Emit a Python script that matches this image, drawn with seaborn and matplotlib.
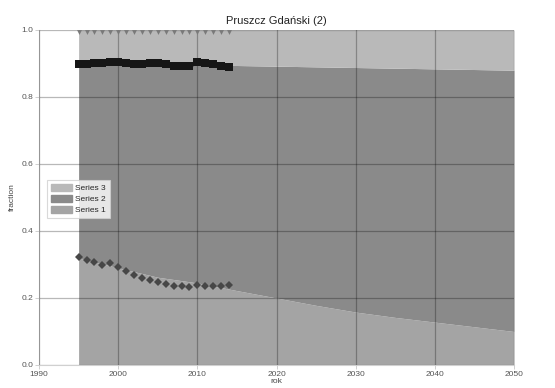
import numpy as np
import pandas as pd
import matplotlib
matplotlib.use('Agg')
import matplotlib.pyplot as plt
import matplotlib.patches as mpatches
import seaborn as sns

# stacked areas (shares), read every 5 years
area_years = [1995, 2000, 2005, 2010, 2015, 2020, 2025, 2030, 2035, 2040, 2045, 2050]
series1 = [0.32, 0.29, 0.262, 0.245, 0.222, 0.20, 0.178, 0.158, 0.142, 0.128, 0.114, 0.10]
series2 = [0.58, 0.61, 0.636, 0.651, 0.672, 0.692, 0.712, 0.730, 0.744, 0.756, 0.768, 0.780]
series3 = [0.10, 0.10, 0.102, 0.104, 0.106, 0.108, 0.110, 0.112, 0.114, 0.116, 0.118, 0.120]

# observed points 1995-2014
obs_years = list(range(1995, 2015))
obs_low = [0.321, 0.313, 0.308, 0.297, 0.303, 0.294, 0.282, 0.270, 0.260, 0.254,
           0.247, 0.241, 0.235, 0.235, 0.233, 0.238, 0.236, 0.236, 0.236, 0.238]
obs_mid = [0.898, 0.899, 0.900, 0.901, 0.905, 0.903, 0.900, 0.898, 0.899, 0.901,
           0.900, 0.897, 0.894, 0.893, 0.893, 0.904, 0.901, 0.897, 0.894, 0.890]
obs_top = [0.993] * 20

colors = {'Series 1': '#a4a4a4', 'Series 2': '#8a8a8a', 'Series 3': '#b9b9b9'}

sns.set_theme(style='white')
plt.rcParams['font.family'] = ['Liberation Sans', 'DejaVu Sans']

fig = plt.figure(figsize=(5.55, 3.88), dpi=100)
ax = fig.add_axes([0.0703, 0.0593, 0.856, 0.8634])

x = np.array(area_years)
b1 = np.array(series1)
b2 = b1 + np.array(series2)
b3 = b2 + np.array(series3)
ax.fill_between(x, 0, b1, color=colors['Series 1'], lw=0, zorder=1)
ax.fill_between(x, b1, b2, color=colors['Series 2'], lw=0, zorder=1)
ax.fill_between(x, b2, b3, color=colors['Series 3'], lw=0, zorder=1)

sns.lineplot(x=obs_years, y=obs_mid, ax=ax, color='#161616', lw=3,
             marker='s', markersize=6, markeredgewidth=0, zorder=4)
sns.lineplot(x=obs_years, y=obs_low, ax=ax, color='#474747', lw=0,
             marker='D', markersize=4.5, markeredgewidth=0, zorder=4)
sns.lineplot(x=obs_years, y=obs_top, ax=ax, color='#7a7a7a', lw=0,
             marker='v', markersize=3.5, markeredgewidth=0, zorder=4)

ax.set_xlim(1990, 2050)
ax.set_ylim(0, 1.0)
ax.set_xticks(range(1990, 2051, 10))
ax.set_yticks([0.0, 0.2, 0.4, 0.6, 0.8, 1.0])
ax.set_yticklabels(['0.0', '0.2', '0.4', '0.6', '0.8', '1.0'])
ax.set_axisbelow(False)
ax.grid(True, color='black', alpha=0.28, lw=0.9)

for s in ['top', 'right']:
    ax.spines[s].set_visible(False)
for s in ['left', 'bottom']:
    ax.spines[s].set_color('#d0d0d0')
    ax.spines[s].set_linewidth(0.8)
ax.tick_params(axis='both', labelsize=6, colors='#555555', length=3,
               width=0.6, pad=1, left=True, bottom=True)
ax.tick_params(axis='both', color='#c8c8c8')

ax.set_xlabel('rok', fontsize=6, color='#444444', labelpad=0)
ax.set_ylabel('fraction', fontsize=6, color='#444444', labelpad=4)
ax.set_title('Pruszcz Gdański (2)', fontsize=8, color='#222222', pad=4)

handles = [mpatches.Patch(color=colors[k], label=k) for k in ['Series 3', 'Series 2', 'Series 1']]
leg = ax.legend(handles=handles, loc='upper left', bbox_to_anchor=(0.008, 0.565),
                fontsize=6, frameon=True, fancybox=False, borderpad=0.5,
                handlelength=2.5, handleheight=0.9, labelspacing=0.3,
                handletextpad=0.4)
leg.get_frame().set_edgecolor('#d0d0d0')
leg.get_frame().set_linewidth(0.8)
leg.set_zorder(5)

fig.savefig('out.png', dpi=100)
